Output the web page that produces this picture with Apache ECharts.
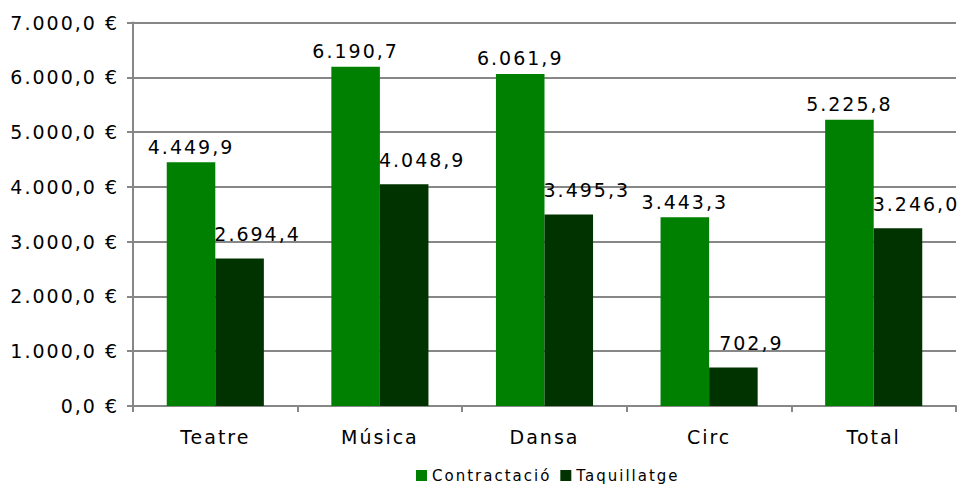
<!DOCTYPE html>
<html><head><meta charset="utf-8">
<script src="https://cdn.jsdelivr.net/npm/echarts@6/dist/echarts.min.js"></script>
<style>html,body{margin:0;padding:0;background:#fff}#c{width:965px;height:484px;letter-spacing:2px}</style>
</head><body><div id="c"></div>
<script>
const categories = ['Teatre', 'Música', 'Dansa', 'Circ', 'Total'];
const contractacio = [4449.9, 6190.7, 6061.9, 3443.3, 5225.8];
const taquillatge = [2694.4, 4048.9, 3495.3, 702.9, 3246.0];
const seriesNames = ['Contractació', 'Taquillatge'];
const yTicks = { min: 0, max: 7000, interval: 1000 };

function fmt(v, dec) {
  const s = v.toFixed(dec);
  let [i, d] = s.split('.');
  i = i.replace(/\B(?=(\d{3})+(?!\d))/g, '.');
  return d !== undefined ? i + ',' + d : i;
}
const FONT = 'DejaVu Sans';
const chart = echarts.init(document.getElementById('c'), null, { renderer: 'svg' });
chart.setOption({
  animation: false,
  textStyle: { fontFamily: FONT },
  grid: { left: 133, right: 9, top: 22.5, bottom: 78, containLabel: false },
  legend: {
    data: seriesNames, top: 463, left: 411,
    itemWidth: 11, itemHeight: 11, itemGap: 33,
    icon: 'rect',
    textStyle: { fontFamily: FONT, fontSize: 15, color: '#000' }
  },
  xAxis: {
    type: 'category', data: categories,
    axisLine: { lineStyle: { color: '#878787', width: 2 } },
    axisTick: { show: true, alignWithLabel: false, length: 6, lineStyle: { color: '#878787', width: 2 } },
    axisLabel: { color: '#000', fontSize: 19, fontFamily: FONT, margin: 21 }
  },
  yAxis: {
    type: 'value', min: yTicks.min, max: yTicks.max, interval: yTicks.interval,
    axisLine: { show: true, lineStyle: { color: '#878787', width: 2 } },
    axisTick: { show: true, length: 6, lineStyle: { color: '#878787', width: 2 } },
    splitLine: { show: true, lineStyle: { color: '#878787', width: 2 } },
    axisLabel: { color: '#000', fontSize: 19, fontFamily: FONT, margin: 14,
      formatter: v => fmt(v, 1) + ' €' }
  },
  series: [
    { name: seriesNames[0], type: 'bar', data: contractacio,
      barGap: '0%', barCategoryGap: '41%',
      itemStyle: { color: '#008000' },
      label: { show: true, position: 'top', distance: 6, color: '#000', fontSize: 19, fontFamily: FONT,
        formatter: p => fmt(p.value, 1) } },
    { name: seriesNames[1], type: 'bar', data: taquillatge,
      barGap: '0%', barCategoryGap: '41%',
      itemStyle: { color: '#003300' },
      label: { show: true, position: 'top', distance: 5, offset: [18, -10], color: '#000', fontSize: 19, fontFamily: FONT,
        formatter: p => fmt(p.value, 1) } }
  ]
});
</script></body></html>
